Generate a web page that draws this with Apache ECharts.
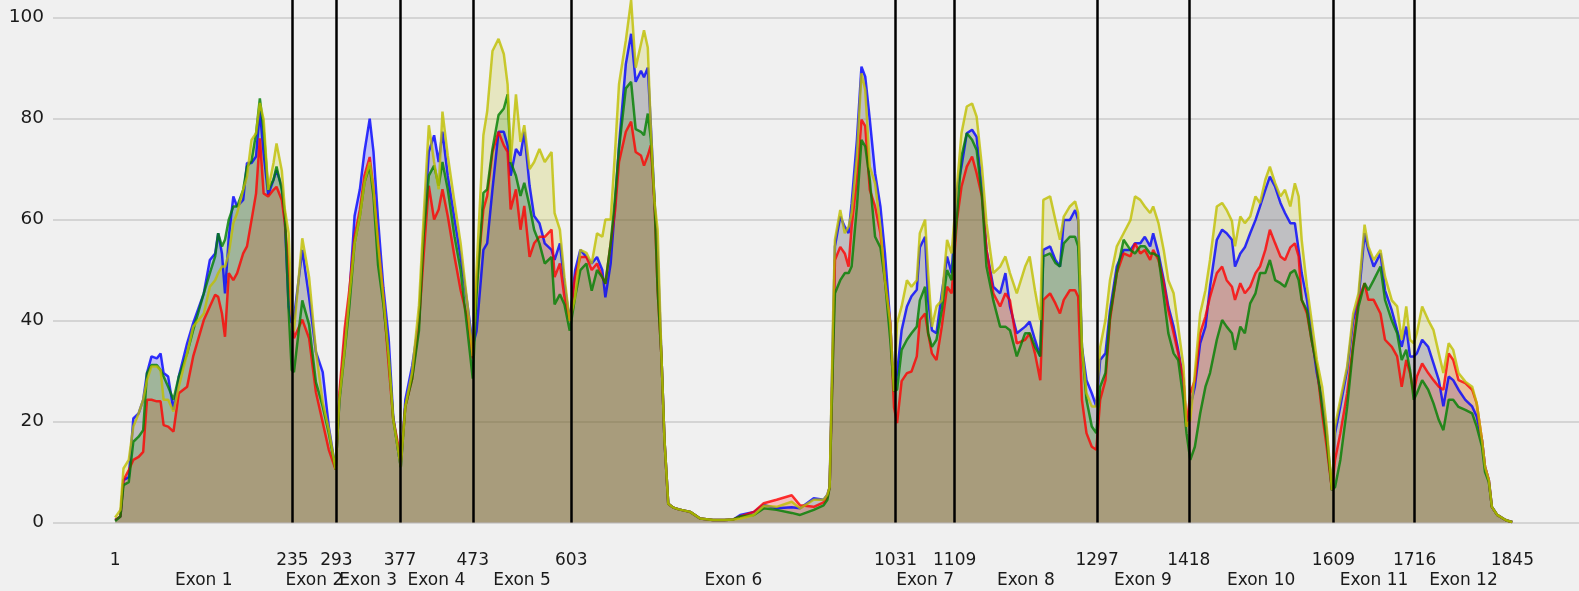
<!DOCTYPE html>
<html>
<head>
<meta charset="utf-8">
<title>Exon coverage</title>
<script src="https://cdn.jsdelivr.net/npm/echarts@6/dist/echarts.min.js"></script>
<style>
    html, body { margin: 0; padding: 0; background: #f0f0f0; }
    #coverage { width: 1579px; height: 591px; }
</style>
</head>
<body>
<div id="coverage"></div>
<script>
// positions along the transcript (one line per exon)
var positions = [
    1, 8, 12, 19, 25, 32, 38, 43, 49, 56, 61, 65, 71, 78, 85, 96, 104, 118, 126, 133, 137, 142, 146, 151, 157, 162, 170, 175, 181, 187, 192, 197, 203, 210, 214, 221, 225, 230, 234,
    237, 248, 257, 266, 275, 283, 292,
    297, 304, 310, 317, 324, 330, 337, 342, 348, 355, 362, 368, 375, 378,
    384, 393, 402, 408, 415, 422, 428, 433, 440, 449, 457, 466, 473,
    478, 487, 492, 499, 507, 514, 519, 523, 530, 536, 541, 548, 554, 561, 568, 577, 581, 588, 594, 601,
    608, 615, 623, 630, 637, 644, 648, 655, 661, 666, 675, 682, 688, 695, 699, 704, 708, 713, 717, 722, 726, 731, 737,
    745, 760, 773, 790, 805, 817, 826, 844, 857, 874, 894, 905, 923, 936, 941,
    944, 949, 951, 958, 964, 969, 973, 980, 986, 991, 997, 1004, 1011, 1017, 1024, 1029,
    1033, 1039, 1046, 1052, 1059, 1063, 1070, 1074, 1079, 1085, 1092, 1099, 1105,
    1112, 1118, 1125, 1132, 1138, 1145, 1151, 1160, 1169, 1176, 1182, 1191, 1202, 1208, 1215, 1222, 1226, 1235, 1242, 1248, 1253, 1261, 1268, 1272, 1277, 1283, 1290, 1296,
    1301, 1308, 1314, 1323, 1332, 1341, 1347, 1354, 1360, 1367, 1371, 1378, 1385, 1391, 1398, 1404, 1411, 1415,
    1420, 1426, 1433, 1440, 1446, 1455, 1462, 1468, 1475, 1479, 1486, 1492, 1499, 1506, 1512, 1519, 1525, 1532, 1539, 1545, 1552, 1558, 1563, 1567, 1574, 1580, 1587, 1594, 1600, 1607,
    1611, 1618, 1627, 1635, 1642, 1650, 1655, 1662, 1671, 1677, 1686, 1693, 1699, 1705, 1710, 1715,
    1719, 1726, 1734, 1741, 1748, 1754, 1761, 1767, 1774, 1783, 1792, 1798, 1805, 1809, 1814, 1818, 1825, 1836, 1842, 1845
];

var blueValues = [
    0.5, 1.2, 8.4, 9, 20.6, 21.6, 24.3, 29.6, 32.9, 32.5, 33.5, 29.6, 28.9, 22.3, 28.9, 35.5, 39.5, 45.4, 52, 53.3, 57.3, 53.3, 45.4, 56.6, 64.6, 62.6, 63.9, 71.2, 71.2, 72.5, 81.7, 73.1, 64.9, 67.9, 69.8, 66.5, 59.9, 42.8, 39.5,
    40.5, 54, 44.6, 33.8, 29.8, 19, 10.5,
    24.5, 36.5, 44.6, 60.7, 66, 73.4, 80, 73.4, 60, 46.6, 36.5, 21, 13.8, 11,
    24.3, 31, 40, 56.6, 73.4, 76.7, 71.4, 77.4, 68.7, 60, 52.6, 43.2, 35,
    37.9, 54, 55.3, 66, 77.4, 77.4, 74.7, 68.7, 74, 72.7, 77.4, 66.7, 60.7, 59.3, 55.3, 54, 52, 55.3, 47.3, 39.9,
    49.9, 54, 52.6, 51.3, 52.6, 50, 44.6, 51.3, 63.3, 74.7, 90.8, 96.8, 87.3, 89.5, 88.2, 90.1, 78.7, 63.3, 53.3, 33, 16.4, 3.7, 3,
    2.6, 2.1, 0.8, 0.5, 0.5, 0.6, 1.5, 2.1, 3.5, 2.8, 3, 2.8, 4.8, 4.5, 5.5,
    7, 41.4, 54.7, 60.6, 58.6, 57.3, 63.2, 75.8, 90.3, 88.3, 79.8, 69.2, 62.6, 53.3, 39.5, 26,
    29.6, 38.1, 42.8, 44.8, 46.1, 54.5, 56.6, 44, 38.1, 37.5, 45.4, 52.7, 49.4,
    65.9, 70.5, 77.1, 77.8, 76.4, 66, 54, 46.7, 45.4, 49.4, 42.8, 37.5, 38.8, 39.8, 36.2, 32.9, 54, 54.7, 52, 50.7, 59.9, 59.9, 61.9, 59.9, 34.7, 28.2, 25.6, 23,
    32.2, 33.5, 42, 50.7, 54, 54, 55.3, 55.3, 56.6, 54.7, 57.3, 53.3, 48, 42.8, 38.8, 34.2, 28.2, 19,
    23, 26.9, 35.5, 38.8, 46.7, 56, 58, 57.3, 56, 50.7, 53.3, 54.5, 57.3, 59.9, 62.6, 65.9, 68.5, 66.5, 63.3, 61.3, 59.3, 59.3, 54, 49.4, 44.1, 37.2, 29.6, 24.3, 17.7, 6.4,
    17.7, 23, 30.2, 40.1, 44.1, 57.3, 54, 50.7, 53.3, 46, 42, 38.1, 34.8, 38.8, 32.9, 32.9,
    33.5, 36.2, 34.8, 31.5, 28.2, 23, 28.9, 28.2, 26.3, 24.3, 23, 21, 16.3, 11, 8.4, 3.1, 1.5, 0.5, 0.2, 0.1
];

var redValues = [
    0.5, 1.2, 8.4, 10.4, 12.4, 13, 14, 24.3, 24.3, 24, 24, 19.3, 19, 18, 25.6, 26.9, 32.9, 40.1, 42.8, 45.1, 44.7, 41.4, 36.8, 49.4, 48, 49.4, 53.3, 54.7, 59.9, 65.2, 76.1, 65.2, 64.6, 65.9, 66.5, 63.9, 59.3, 50.7, 41.4,
    36.5, 40.2, 36.5, 25.8, 19.8, 14.4, 10.5,
    25.8, 38.5, 46, 56.6, 62, 68.7, 72.4, 66, 55.3, 44.6, 31.2, 20.5, 15.1, 12,
    23, 28.5, 39.5, 52.6, 66.7, 60, 62, 66, 60.7, 52.6, 46, 40.5, 32.5,
    47.3, 62, 64.7, 73.4, 77.4, 74.7, 73.4, 62, 66, 58, 62.7, 52.6, 55.3, 56.6, 56.6, 58, 48.6, 51.3, 44.6, 39.9,
    48.6, 52.6, 52.6, 50, 51.3, 48.6, 47.3, 55.3, 62, 71.4, 77.4, 79.4, 73.4, 72.7, 70.7, 72.7, 74.7, 62.7, 46, 33, 16.4, 3.7, 3,
    2.6, 2.1, 0.8, 0.5, 0.5, 0.6, 1.2, 2.1, 3.8, 4.5, 5.4, 3.4, 3.1, 4, 5,
    7, 37.5, 52, 54.6, 53.3, 50.7, 58.6, 67.9, 79.8, 78.5, 65.9, 62.6, 57.3, 48, 39.5, 22.8,
    19.7, 28, 29.6, 29.9, 32.9, 40.1, 41.4, 37.5, 33.5, 32.2, 38.8, 46.7, 45.4,
    59.9, 66.5, 70.5, 72.5, 69.2, 64.6, 54, 45.4, 42.8, 45.4, 44, 35.5, 36.2, 37.5, 33.5, 28.2, 44.1, 45.4, 43.4, 41.4, 44.1, 46, 46, 44.7, 24.3, 17.7, 15, 14.4,
    24.3, 28.2, 40.1, 49.4, 53.3, 52.7, 55.3, 53.3, 54, 52, 54, 52, 47.4, 42, 37.5, 33.5, 28.2, 19,
    25.6, 28.2, 37.5, 40.8, 44.7, 49.4, 50.7, 48, 46.7, 44.1, 47.4, 45.4, 46.7, 49.4, 50.7, 54, 58, 55.3, 52.7, 52, 54.5, 55.3, 52.7, 44.1, 41.4, 36.2, 30.9, 21.6, 15, 6.4,
    12.4, 17.7, 25.6, 35.5, 44.1, 47.4, 44.1, 44.1, 41.4, 36.2, 34.8, 32.9, 26.9, 32.2, 29.6, 25.6,
    28.9, 31.5, 29.6, 28.2, 26.9, 26.3, 33.5, 32.2, 28.2, 27.6, 26.3, 23.6, 16.3, 11, 8.4, 3.1, 1.5, 0.5, 0.2, 0.1
];

var greenValues = [
    0.3, 1.2, 7.4, 8, 16, 17, 18.3, 29.6, 31.2, 31.2, 30.2, 28.9, 26.9, 24.3, 28.9, 33.5, 38.1, 45.4, 49.4, 52.7, 57.3, 54.7, 56, 60, 62.6, 62.6, 65.9, 70.5, 71.6, 77.1, 84, 77.8, 65.9, 67.9, 70.5, 65.9, 61.3, 42.1, 30.2,
    29.8, 44, 39.2, 27.8, 23, 17.7, 10.5,
    24, 34, 42.6, 55.3, 60.7, 67.3, 70.7, 64.6, 51, 43.2, 33, 20.5, 13.8, 11,
    23, 28.5, 38, 56.6, 68.7, 70.7, 66.7, 71.4, 66, 56.6, 50, 38, 28.5,
    45, 65.3, 66, 74, 80.7, 82, 84.8, 71.4, 68.7, 64.7, 67.3, 62.7, 58, 55.3, 51.3, 52.6, 43.2, 45.2, 43.2, 38,
    44.6, 50, 51.3, 45.9, 50, 48.6, 47.3, 55.3, 64.7, 74, 86, 87.3, 77.9, 77.4, 76.7, 81, 76, 63.3, 46, 33, 16.4, 3.7, 3,
    2.6, 2.1, 0.8, 0.5, 0.5, 0.6, 1.2, 1.5, 2.8, 2.5, 1.9, 1.5, 2.5, 3.4, 4.5,
    7, 36.2, 45.4, 48, 49.4, 49.4, 50.7, 62.6, 75.8, 74.5, 67.9, 56.6, 54.5, 48, 36.2, 26,
    26.3, 34.2, 36.2, 37.5, 38.8, 44, 46.7, 37.5, 34.8, 36.2, 42.1, 50, 48,
    60.6, 72.5, 77.1, 75.8, 73.8, 64.6, 50.7, 44, 38.8, 38.8, 38.1, 32.9, 37.5, 37.5, 34.8, 32.9, 52.7, 53.3, 51.4, 50.7, 55.3, 56.6, 56.6, 54.7, 34.7, 24.3, 19, 17.7,
    26.9, 29.6, 40.8, 49.4, 56, 54, 53.3, 54.7, 54.7, 53.3, 53.3, 52.7, 44.7, 37.5, 33.5, 32.2, 24.3, 17.7,
    12.4, 15, 21.6, 26.9, 29.6, 36.2, 40.1, 38.8, 37.5, 34.2, 38.8, 37.5, 43.4, 45.4, 49.4, 49.4, 52, 48, 47.4, 46.7, 49.4, 50, 48, 44.1, 42, 36.2, 30.9, 22.9, 16.4, 6.4,
    7, 12.4, 22.9, 34.8, 42.8, 47.4, 46, 48, 50.7, 44.1, 40, 37.5, 32.2, 34.2, 30.2, 24.3,
    25.6, 28.2, 26.3, 23.6, 20.3, 18.3, 24.3, 24.3, 22.9, 22.3, 21.6, 19, 15, 10, 8, 3.1, 1.5, 0.5, 0.2, 0.1
];

var yellowValues = [
    1, 2.5, 10.7, 12.4, 19, 21.6, 24.3, 28.2, 30.9, 30.9, 30.2, 24.3, 24.3, 22, 26.9, 33.5, 38.8, 41.4, 46.7, 48, 49.4, 50.7, 50.7, 53.3, 59.3, 61.3, 65.9, 68.5, 75.8, 77.1, 83.1, 79.8, 65.9, 71.2, 75.1, 69.7, 62, 57.3, 41.4,
    38, 56.3, 48.6, 34, 23.8, 18.4, 10.5,
    24.5, 34.5, 44.6, 55.3, 60.7, 67.3, 71.4, 66, 55.3, 44.6, 33, 20.5, 13.8, 11,
    23, 29.8, 43, 60, 78.7, 71.4, 66, 81.4, 72.7, 63.3, 55.3, 43.2, 33,
    50, 76.7, 81.4, 93.4, 95.8, 92.8, 86.8, 71.4, 84.8, 75.4, 78.7, 70, 71.4, 74, 71.4, 73.4, 61.3, 58, 48.6, 39.9,
    44.6, 54, 53.4, 51.3, 57.3, 56.6, 60, 60, 74, 86.8, 95.5, 103.5, 90.1, 94.8, 97.5, 94.1, 78, 63.3, 58, 33, 16.4, 3.7, 3,
    2.6, 2.1, 0.8, 0.5, 0.5, 0.6, 0.8, 1.5, 3.3, 3.1, 4.1, 2.8, 4.5, 4.5, 5.5,
    7, 44, 56, 61.9, 57.3, 58.6, 61.3, 72.5, 89, 85.7, 70.5, 67.2, 58.6, 48, 39.5, 26,
    39.5, 42.8, 48, 46.7, 48, 57.3, 60, 49.4, 38.8, 42.8, 44, 56, 53.3,
    66.5, 77.1, 82.4, 83, 80.4, 70.5, 59.3, 49.4, 50.7, 52.7, 49.4, 45.4, 50.7, 52.7, 46, 40.1, 63.9, 64.6, 59.9, 56, 60.6, 62.6, 63.6, 61.3, 34.7, 25.6, 23, 23,
    34.7, 40.1, 48, 54.7, 57.3, 59.9, 64.6, 63.9, 62.6, 61.3, 62.6, 59.3, 53.9, 48, 45.4, 38.8, 30.9, 19,
    20.3, 29.6, 41.4, 46, 52, 62.6, 63.3, 61.9, 59.7, 54.7, 60.6, 59.3, 60.6, 64.6, 63.3, 67.9, 70.5, 67.2, 64.6, 65.9, 62.6, 67.2, 64.6, 56, 46.7, 40.1, 32.2, 26.9, 19, 6.4,
    19, 24.3, 30.9, 41.4, 45.4, 59, 54.7, 52, 54, 48.7, 44, 42.8, 36.2, 42.8, 36.2, 35.5,
    37.5, 42.8, 40.1, 38.1, 33.5, 29.6, 35.5, 34.2, 29.6, 27.9, 26.9, 23.6, 16.3, 11, 8.4, 3.1, 1.5, 0.5, 0.2, 0.1
];

// exon boundaries and tick labels
var exonBoundaries = [235, 293, 377, 473, 603, 1031, 1109, 1297, 1418, 1609, 1716];
var tickPositions = [1, 235, 293, 377, 473, 603, 1031, 1109, 1297, 1418, 1609, 1716, 1845];
var exonNames = ['Exon 1', 'Exon 2', 'Exon 3', 'Exon 4', 'Exon 5', 'Exon 6',
    'Exon 7', 'Exon 8', 'Exon 9', 'Exon 10', 'Exon 11', 'Exon 12'];
var yTicks = [0, 20, 40, 60, 80, 100];

var CoverageChart = {
    domId: 'coverage',
    fontFamily: 'DejaVu Sans',
    xMin: -81,
    xMax: 1933,
    yMax: 103.5,

    exonCenters: function () {
        var centers = [];
        for (var i = 0; i < tickPositions.length - 1; i++) {
            centers.push((tickPositions[i] + tickPositions[i + 1]) / 2);
        }
        return centers;
    },

    _pairs: function (values) {
        return positions.map(function (p, i) {
            return [p, values[i]];
        });
    },

    _coverageSeries: function (name, color, values) {
        return {
            name: name,
            type: 'line',
            data: this._pairs(values),
            showSymbol: false,
            symbol: 'none',
            animation: false,
            lineStyle: { color: color, width: 2.5, opacity: 0.8 },
            itemStyle: { color: color },
            areaStyle: { color: color, opacity: 0.2 }
        };
    },

    init: function () {
        var _this = this;
        var centers = this.exonCenters();
        var myChart = echarts.init(document.getElementById(this.domId));
        var option = {
            backgroundColor: '#f0f0f0',
            animation: false,
            textStyle: { fontFamily: _this.fontFamily },
            grid: { left: 53, right: 0, top: 0, bottom: 68.5 },
            xAxis: [
                {
                    type: 'value',
                    position: 'bottom',
                    min: _this.xMin,
                    max: _this.xMax,
                    axisLine: { show: false },
                    axisTick: { show: false },
                    splitLine: { show: false },
                    axisLabel: {
                        customValues: tickPositions,
                        hideOverlap: false,
                        margin: 30,
                        fontSize: 17,
                        color: '#1a1a1a',
                        fontFamily: _this.fontFamily,
                        formatter: function (v) { return String(v); }
                    }
                },
                {
                    type: 'value',
                    position: 'bottom',
                    min: _this.xMin,
                    max: _this.xMax,
                    axisLine: { show: false },
                    axisTick: { show: false },
                    splitLine: { show: false },
                    axisLabel: {
                        customValues: centers,
                        hideOverlap: false,
                        margin: 50,
                        fontSize: 17,
                        color: '#1a1a1a',
                        fontFamily: _this.fontFamily,
                        formatter: function (v) {
                            var k = centers.indexOf(v);
                            return k >= 0 ? exonNames[k] : '';
                        }
                    }
                }
            ],
            yAxis: {
                type: 'value',
                min: 0,
                max: _this.yMax,
                interval: 20,
                axisLine: { show: false },
                axisTick: { show: false },
                axisLabel: {
                    customValues: yTicks,
                    fontSize: 18.5,
                    color: '#1a1a1a',
                    margin: 9,
                    fontFamily: _this.fontFamily
                },
                splitLine: {
                    showMaxLine: false,
                    lineStyle: { color: '#cbcbcb', width: 1.5 }
                }
            },
            series: [
                _this._coverageSeries('blue', '#0000ff', blueValues),
                _this._coverageSeries('red', '#ff0000', redValues),
                _this._coverageSeries('green', '#008000', greenValues),
                _this._coverageSeries('yellow', '#bfbf00', yellowValues),
                {
                    name: 'boundaries',
                    type: 'line',
                    data: [],
                    silent: true,
                    markLine: {
                        silent: true,
                        animation: false,
                        symbol: ['none', 'none'],
                        label: { show: false },
                        lineStyle: { color: '#000', width: 2.5, type: 'solid', opacity: 1 },
                        data: exonBoundaries.map(function (b) { return { xAxis: b }; })
                    }
                }
            ]
        };
        myChart.setOption(option);
    }
};

CoverageChart.init();
</script>
</body>
</html>
